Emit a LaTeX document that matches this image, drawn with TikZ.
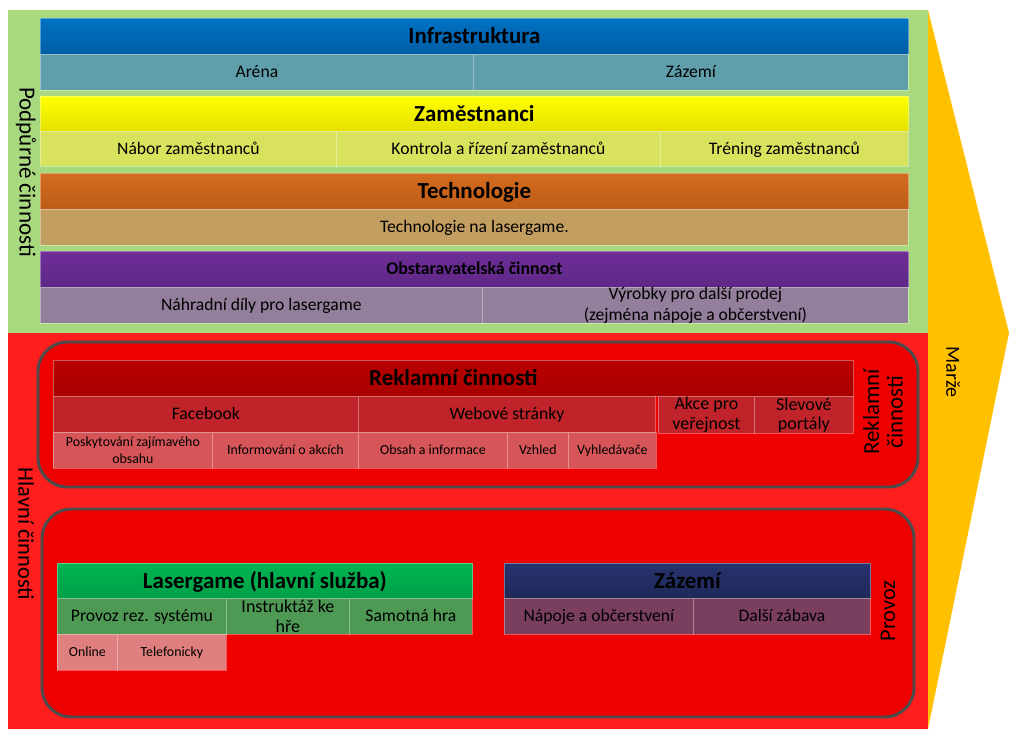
\documentclass[tikz,border=0pt]{standalone}
\usepackage{fontspec}
\setmainfont{Carlito}
\usepackage{tikz}
\definecolor{bgGreen}{HTML}{A9D97F}
\definecolor{bgRed}{HTML}{FF1E1E}
\definecolor{boxRed}{HTML}{EE0000}
\definecolor{margeGold}{HTML}{FFC000}
\definecolor{infraTop}{HTML}{0072C2}
\definecolor{infraBot}{HTML}{005DA6}
\definecolor{infraSub}{HTML}{5F9EAA}
\definecolor{zamTop}{HTML}{FFFF00}
\definecolor{zamBot}{HTML}{E6E000}
\definecolor{zamSub}{HTML}{D8E25C}
\definecolor{techTop}{HTML}{D26C1E}
\definecolor{techBot}{HTML}{BE5C18}
\definecolor{techSub}{HTML}{C29E60}
\definecolor{obstTop}{HTML}{6E2D98}
\definecolor{obstBot}{HTML}{5E2886}
\definecolor{obstSub}{HTML}{937E9B}
\definecolor{reklTop}{HTML}{BA0000}
\definecolor{reklBot}{HTML}{A80000}
\definecolor{reklSub}{HTML}{C0242A}
\definecolor{reklSubSub}{HTML}{D65558}
\definecolor{laserTop}{HTML}{00B452}
\definecolor{laserBot}{HTML}{00A048}
\definecolor{laserSub}{HTML}{4E9A55}
\definecolor{laserSubSub}{HTML}{E07F7F}
\definecolor{zazTop}{HTML}{27336E}
\definecolor{zazBot}{HTML}{1E2858}
\definecolor{zazSub}{HTML}{7A3F5E}
\tikzstyle{cell_two} = [draw=white, draw opacity=0.35, line width=0.6pt, inner sep=0pt, anchor=north west, align=center, font=\fontsize{13.5}{14.5}\selectfont]
\tikzstyle{cell_box} = [cell_two, font=\fontsize{13.2}{15}\selectfont, text height=9pt, text depth=1pt]
\tikzstyle{cell_small} = [cell_box, font=\fontsize{10.4}{12}\selectfont, text height=7.4pt, text depth=1pt]
\tikzstyle{head_box} = [cell_box, font=\bfseries\fontsize{17.2}{19}\selectfont, text height=12pt, text depth=1pt]
\tikzstyle{side_label} = [inner sep=0pt, align=center, font=\fontsize{16.8}{17.5}\selectfont]
\tikzstyle{frame_round} = [draw=black!70, line width=2.2pt, rounded corners=22pt]
\tikzset{wh/.style 2 args={minimum width=#1*0.75pt, minimum height=#2*0.75pt}}

\begin{document}
\begin{tikzpicture}[x=0.75pt,y=-0.75pt]
		\useasboundingbox (0,0) rectangle (1009,729);
		% backgrounds
		\fill[margeGold] (928,10) -- (1009,333) -- (928,729) -- cycle;
		\fill[bgGreen] (8,10) rectangle (928,333);
		\fill[bgRed] (8,333) rectangle (928,729);

		% podpurne cinnosti
		\node (infra) at (40,18) [head_box, wh={868}{36}, top color=infraTop, bottom color=infraBot] {Infrastruktura};
		\node (arena) at (40,54) [cell_box, wh={433}{36}, fill=infraSub] {Aréna};
		\node (zazemiI) at (473,54) [cell_box, wh={435}{36}, fill=infraSub] {Zázemí};
		\node (zam) at (40,96) [head_box, wh={868}{35}, top color=zamTop, bottom color=zamBot] {Zaměstnanci};
		\node (nabor) at (40,131) [cell_box, wh={296}{35}, fill=zamSub] {Nábor zaměstnanců};
		\node (kontrola) at (336,131) [cell_box, wh={324}{35}, fill=zamSub] {Kontrola a řízení zaměstnanců};
		\node (trening) at (660,131) [cell_box, wh={248}{35}, fill=zamSub] {Tréning zaměstnanců};
		\node (tech) at (40,173) [head_box, wh={868}{36}, top color=techTop, bottom color=techBot] {Technologie};
		\node (techSub) at (40,209) [cell_box, wh={868}{36}, fill=techSub] {Technologie na lasergame.};
		\node (obst) at (40,251) [head_box, wh={868}{36}, top color=obstTop, bottom color=obstBot, font=\bfseries\fontsize{13.4}{15}\selectfont, text height=9pt] {Obstaravatelská činnost};
		\node (dily) at (40,287) [cell_box, wh={442}{36}, fill=obstSub] {Náhradní díly pro lasergame};
		\node (vyrobky) at (482,287) [cell_two, wh={426}{36}, fill=obstSub, font=\fontsize{13.2}{15.5}\selectfont] {Výrobky pro další prodej\\(zejména nápoje a občerstvení)};

		% hlavni cinnosti - reklama
		\draw[frame_round, fill=boxRed] (38,342) rectangle (918,487);
		\node (rekl) at (53,360) [head_box, wh={800}{36}, top color=reklTop, bottom color=reklBot] {Reklamní činnosti};
		\node (facebook) at (53,396) [cell_box, wh={305}{36}, fill=reklSub] {Facebook};
		\node (web) at (358,396) [cell_box, wh={297}{36}, fill=reklSub] {Webové stránky};
		\node (akce) at (658,396) [cell_two, wh={96}{37}, fill=reklSub] {Akce pro\\veřejnost};
		\node (slevy) at (754,396) [cell_two, wh={99}{37}, fill=reklSub] {Slevové\\portály};
		\node (posk) at (53,432) [cell_two, wh={159}{36}, fill=reklSubSub, font=\fontsize{10.4}{12.5}\selectfont] {Poskytování zajímavého\\obsahu};
		\node (inform) at (212,432) [cell_small, wh={146}{36}, fill=reklSubSub] {Informování o akcích};
		\node (obsah) at (358,432) [cell_small, wh={149}{36}, fill=reklSubSub] {Obsah a informace};
		\node (vzhled) at (507,432) [cell_small, wh={61}{36}, fill=reklSubSub] {Vzhled};
		\node (vyhl) at (568,432) [cell_small, wh={88}{36}, fill=reklSubSub] {Vyhledávače};
		\node (reklSide) at (883,412) [side_label, rotate=90, font=\fontsize{17.2}{17.5}\selectfont] {Reklamní\\činnosti};

		% hlavni cinnosti - provoz
		\draw[frame_round, fill=boxRed] (42,509) rectangle (914,717);
		\node (laser) at (57,563) [head_box, wh={415}{35}, top color=laserTop, bottom color=laserBot] {Lasergame (hlavní služba)};
		\node (rez) at (57,598) [cell_box, wh={169}{36}, fill=laserSub] {Provoz rez. systému};
		\node (instr) at (226,598) [cell_two, wh={123}{36}, fill=laserSub, font=\fontsize{13.5}{15}\selectfont] {Instruktáž ke\\hře};
		\node (hra) at (349,598) [cell_box, wh={123}{36}, fill=laserSub] {Samotná hra};
		\node (online) at (57,634) [cell_small, wh={60}{36}, fill=laserSubSub] {Online};
		\node (telef) at (117,634) [cell_small, wh={109}{36}, fill=laserSubSub] {Telefonicky};
		\node (zazH) at (504,563) [head_box, wh={366}{35}, top color=zazTop, bottom color=zazBot] {Zázemí};
		\node (napoje) at (504,598) [cell_box, wh={189}{36}, fill=zazSub] {Nápoje a občerstvení};
		\node (zabava) at (693,598) [cell_box, wh={177}{36}, fill=zazSub] {Další zábava};
		\node (provozSide) at (888,611) [side_label, rotate=90] {Provoz};

		% popisky
		\node (podp) at (26,172) [side_label, rotate=-90, font=\fontsize{17.3}{18}\selectfont] {Podpůrné činnosti};
		\node (hlavni) at (26,534) [side_label, rotate=-90] {Hlavní činnosti};
		\node (marze) at (953,372) [side_label, rotate=-90, font=\fontsize{15}{16}\selectfont] {Marže};
\end{tikzpicture}
\end{document}
